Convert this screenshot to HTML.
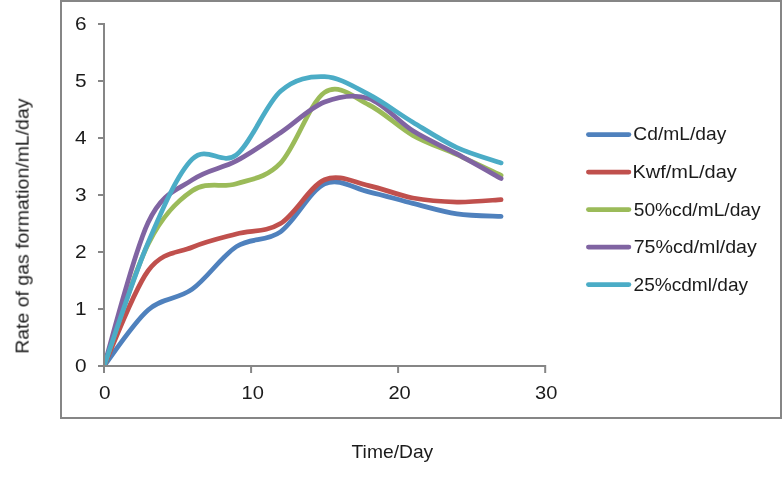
<!DOCTYPE html>
<html><head><meta charset="utf-8"><style>
html,body{margin:0;padding:0;background:#fff;}
body{width:783px;height:477px;overflow:hidden;position:relative;}
svg{position:absolute;left:0;top:0;}
text{font-family:"Liberation Sans",sans-serif;fill:#1a1a1a;}
</style></head><body>
<svg width="783" height="477" viewBox="0 0 783 477">
<rect x="61" y="1" width="720" height="417" fill="#fff" stroke="#868686" stroke-width="2"/>
<defs><clipPath id="pa"><rect x="104" y="0" width="679" height="366"/></clipPath></defs>
<g fill="none" stroke-width="4.75" stroke-linecap="round" stroke-linejoin="round">
<g clip-path="url(#pa)">
<path d="M104.00,366.00 C111.35,356.66 133.41,322.74 148.12,309.93 C162.83,297.13 177.53,299.71 192.24,289.15 C206.95,278.60 221.65,256.18 236.36,246.63 C251.07,237.07 265.77,242.28 280.48,231.81 C295.19,221.35 309.89,190.49 324.60,183.83 C339.31,177.18 354.01,188.60 368.72,191.86 C383.43,195.12 398.13,199.74 412.84,203.41 C427.55,207.09 442.25,211.72 456.96,213.90 C471.67,216.07 493.73,216.04 501.08,216.46" stroke="#4F81BD"/>
<path d="M104.00,366.00 C111.35,350.12 133.41,290.54 148.12,270.74 C162.83,250.93 177.53,253.32 192.24,247.19 C206.95,241.05 221.65,237.86 236.36,233.92 C251.07,229.98 265.77,232.57 280.48,223.55 C295.19,214.53 309.89,186.12 324.60,179.79 C339.31,173.46 354.01,182.55 368.72,185.59 C383.43,188.63 398.13,195.28 412.84,198.02 C427.55,200.76 442.25,201.75 456.96,202.02 C471.67,202.29 493.73,200.02 501.08,199.62" stroke="#C0504D"/>
<path d="M104.00,366.00 C111.35,345.68 133.41,273.27 148.12,244.06 C162.83,214.86 177.53,200.85 192.24,190.79 C206.95,180.72 221.65,188.27 236.36,183.66 C251.07,179.06 265.77,178.37 280.48,163.15 C295.19,147.94 309.89,102.10 324.60,92.37 C339.31,82.63 354.01,97.58 368.72,104.75 C383.43,111.91 398.13,127.03 412.84,135.34 C427.55,143.65 442.25,147.95 456.96,154.62 C471.67,161.30 493.73,171.92 501.08,175.38" stroke="#9BBB59"/>
<path d="M104.00,366.00 C111.35,342.07 133.41,253.43 148.12,222.41 C162.83,191.39 177.53,190.16 192.24,179.90 C206.95,169.65 221.65,168.73 236.36,160.87 C251.07,153.02 265.77,142.58 280.48,132.78 C295.19,122.98 309.89,107.78 324.60,102.07 C339.31,96.36 354.01,93.74 368.72,98.52 C383.43,103.31 398.13,121.55 412.84,130.79 C427.55,140.03 442.25,146.01 456.96,153.96 C471.67,161.92 493.73,174.44 501.08,178.53" stroke="#8064A2"/>
<path d="M104.00,366.00 C111.35,345.44 133.41,277.09 148.12,242.62 C162.83,208.14 177.53,173.79 192.24,159.16 C206.95,144.53 221.65,166.15 236.36,154.85 C251.07,143.54 265.77,104.35 280.48,91.33 C295.19,78.31 309.89,76.22 324.60,76.74 C339.31,77.26 354.01,86.87 368.72,94.45 C383.43,102.04 398.13,113.38 412.84,122.24 C427.55,131.10 442.25,140.82 456.96,147.60 C471.67,154.37 493.73,160.34 501.08,162.89" stroke="#4BACC6"/>
</g>
<line x1="588.4" y1="134.6" x2="628.9" y2="134.6" stroke="#4F81BD"/><line x1="588.4" y1="172.1" x2="628.9" y2="172.1" stroke="#C0504D"/><line x1="588.4" y1="209.6" x2="628.9" y2="209.6" stroke="#9BBB59"/><line x1="588.4" y1="247.1" x2="628.9" y2="247.1" stroke="#8064A2"/><line x1="588.4" y1="284.6" x2="628.9" y2="284.6" stroke="#4BACC6"/>
</g>
<path d="M104,23V373M98,366H546.2M98,366.0H104M98,309.0H104M98,252.0H104M98,195.1H104M98,138.1H104M98,81.1H104M98,24.1H104M104.0,366V373M251.1,366V373M398.1,366V373M545.2,366V373" stroke="#868686" stroke-width="2" fill="none"/>
<g style="opacity:0.995">
<text id="y0" x="80.90" y="372.10" textLength="11.58" lengthAdjust="spacingAndGlyphs" text-anchor="middle" style="font-size:18.6px">0</text>
<text id="y1" x="80.90" y="315.12" textLength="11.58" lengthAdjust="spacingAndGlyphs" text-anchor="middle" style="font-size:18.6px">1</text>
<text id="y2" x="80.90" y="258.14" textLength="11.58" lengthAdjust="spacingAndGlyphs" text-anchor="middle" style="font-size:18.6px">2</text>
<text id="y3" x="80.90" y="201.16" textLength="11.58" lengthAdjust="spacingAndGlyphs" text-anchor="middle" style="font-size:18.6px">3</text>
<text id="y4" x="80.90" y="144.18" textLength="11.58" lengthAdjust="spacingAndGlyphs" text-anchor="middle" style="font-size:18.6px">4</text>
<text id="y5" x="80.90" y="87.20" textLength="11.58" lengthAdjust="spacingAndGlyphs" text-anchor="middle" style="font-size:18.6px">5</text>
<text id="y6" x="80.90" y="30.22" textLength="11.58" lengthAdjust="spacingAndGlyphs" text-anchor="middle" style="font-size:18.6px">6</text>
<text id="x0" x="104.90" y="399.20" textLength="11.58" lengthAdjust="spacingAndGlyphs" text-anchor="middle" style="font-size:18.6px">0</text>
<text id="x10" x="252.70" y="399.20" textLength="22.35" lengthAdjust="spacingAndGlyphs" text-anchor="middle" style="font-size:18.6px">10</text>
<text id="x20" x="399.60" y="399.20" textLength="22.35" lengthAdjust="spacingAndGlyphs" text-anchor="middle" style="font-size:18.6px">20</text>
<text id="x30" x="546.25" y="399.20" textLength="22.35" lengthAdjust="spacingAndGlyphs" text-anchor="middle" style="font-size:18.6px">30</text>
<text id="L0" x="633.32" y="140.00" textLength="93.08" lengthAdjust="spacingAndGlyphs" style="font-size:17.7px">Cd/mL/day</text>
<text id="L1" x="632.46" y="177.75" textLength="104.39" lengthAdjust="spacingAndGlyphs" style="font-size:17.7px">Kwf/mL/day</text>
<text id="L2" x="633.73" y="215.50" textLength="126.89" lengthAdjust="spacingAndGlyphs" style="font-size:17.7px">50%cd/mL/day</text>
<text id="L3" x="633.71" y="253.25" textLength="123.12" lengthAdjust="spacingAndGlyphs" style="font-size:17.7px">75%cd/ml/day</text>
<text id="L4" x="633.55" y="291.00" textLength="114.51" lengthAdjust="spacingAndGlyphs" style="font-size:17.7px">25%cdml/day</text>
<text id="tx" x="351.59" y="457.80" textLength="81.65" lengthAdjust="spacingAndGlyphs" style="font-size:18.2px">Time/Day</text>
<text id="ty" transform="translate(28.60,353.70) rotate(-90)" textLength="255.19" lengthAdjust="spacingAndGlyphs" style="font-size:17.6px">Rate of gas formation/mL/day</text>
</g>
</svg>
</body></html>
